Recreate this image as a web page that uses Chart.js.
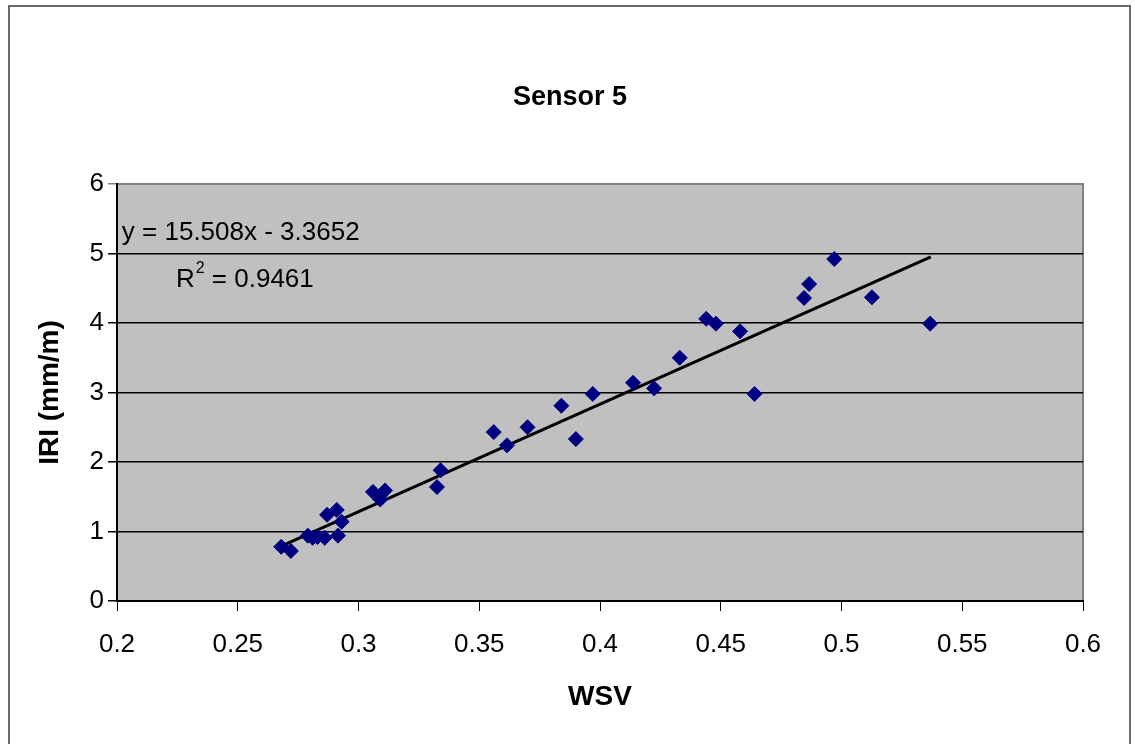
<!DOCTYPE html>
<html>
<head>
<meta charset="utf-8">
<title>Sensor 5</title>
<script src="https://cdn.jsdelivr.net/npm/chart.js@4/dist/chart.umd.min.js"></script>
<style>
  html, body { margin: 0; padding: 0; background: #fff; }
  #wrap { width: 1135px; height: 744px; position: relative; }
</style>
</head>
<body>
<div id="wrap"><canvas id="chart" width="1135" height="744"></canvas></div>
<script>
// measured points: WSV vs IRI
const wsv = [0.268, 0.272, 0.279, 0.281, 0.283, 0.286, 0.2915, 0.287, 0.291, 0.293,
  0.306, 0.311, 0.309, 0.3325, 0.334, 0.356, 0.3615, 0.370, 0.384, 0.390,
  0.397, 0.4137, 0.4224, 0.433, 0.444, 0.448, 0.458, 0.464, 0.4845, 0.4866,
  0.497, 0.5126, 0.5367];
const iri = [0.78, 0.72, 0.94, 0.91, 0.92, 0.91, 0.94, 1.24, 1.31, 1.14,
  1.57, 1.59, 1.46, 1.64, 1.88, 2.43, 2.24, 2.50, 2.81, 2.33,
  2.98, 3.14, 3.06, 3.50, 4.06, 3.99, 3.88, 2.98, 4.36, 4.56,
  4.92, 4.37, 3.99];

// linear trendline ends
const trendX = [0.268, 0.537];
const trendY = [0.79, 4.95];

const xTicks = [0.2, 0.25, 0.3, 0.35, 0.4, 0.45, 0.5, 0.55, 0.6];
const yTicks = [0, 1, 2, 3, 4, 5, 6];

const chartTitle = 'Sensor 5';
const eqText = 'y = 15.508x - 3.3652';
const r2Text = ' = 0.9461';

const FONT = '"Liberation Sans", Arial, sans-serif';

const frame = {
  id: 'frame',
  beforeDraw(chart) {
    const { ctx, chartArea: a } = chart;
    ctx.save();
    ctx.fillStyle = '#fff';
    ctx.fillRect(0, 0, chart.width, chart.height);
    ctx.strokeStyle = '#6a6a6a';
    ctx.lineWidth = 2;
    ctx.strokeRect(9, 6, 1121, 760);
    ctx.fillStyle = '#c0c0c0';
    ctx.fillRect(a.left, a.top, a.right - a.left, a.bottom - a.top);
    ctx.strokeStyle = '#808080';
    ctx.lineWidth = 2;
    ctx.beginPath();
    ctx.moveTo(a.left, a.top);
    ctx.lineTo(a.right, a.top);
    ctx.lineTo(a.right, a.bottom);
    ctx.stroke();
    // chart title, centred on the whole chart box (not the plot)
    ctx.fillStyle = '#000';
    ctx.font = 'bold 27px ' + FONT;
    ctx.textAlign = 'center';
    ctx.textBaseline = 'middle';
    ctx.fillText(chartTitle, 570, 98);
    ctx.restore();
  },
  afterDatasetsDraw(chart) {
    const { ctx, scales: { x, y } } = chart;
    ctx.save();
    ctx.fillStyle = '#000';
    ctx.textBaseline = 'middle';
    ctx.font = '26px ' + FONT;
    ctx.fillText(eqText, x.getPixelForValue(0.202), y.getPixelForValue(5.3));
    const rx = x.getPixelForValue(0.2244), ry = y.getPixelForValue(4.62);
    ctx.fillText('R', rx, ry);
    const rw = ctx.measureText('R').width;
    ctx.font = '16px ' + FONT;
    ctx.fillText('2', rx + rw + 1, ry - 11);
    const sw = ctx.measureText('2').width;
    ctx.font = '26px ' + FONT;
    ctx.fillText(r2Text, rx + rw + sw + 1, ry);
    ctx.restore();
  }
};

new Chart(document.getElementById('chart'), {
  type: 'scatter',
  data: {
    datasets: [
      {
        label: 'IRI',
        data: wsv.map((v, i) => ({ x: v, y: iri[i] })),
        pointStyle: 'rectRot',
        pointRadius: 7.5,
        backgroundColor: '#000080',
        borderColor: '#000080',
        borderWidth: 1
      },
      {
        type: 'line',
        label: 'Linear',
        data: trendX.map((v, i) => ({ x: v, y: trendY[i] })),
        borderColor: '#000',
        borderWidth: 3,
        pointRadius: 0,
        fill: false
      }
    ]
  },
  options: {
    responsive: false,
    animation: false,
    events: [],
    layout: { padding: { top: 184, right: 52, bottom: 0, left: 0 } },
    plugins: {
      legend: { display: false },
      tooltip: { enabled: false },
      title: { display: false }
    },
    scales: {
      x: {
        type: 'linear',
        min: 0.2, max: 0.6,
        afterBuildTicks: s => { s.ticks = xTicks.map(v => ({ value: v })); },
        afterFit: s => { s.height = 143; },
        ticks: {
          color: '#000',
          font: { family: FONT, size: 26 },
          padding: 18,
          callback: v => String(+v.toFixed(2))
        },
        grid: { drawOnChartArea: false, drawTicks: true, tickLength: 10, color: '#000' },
        border: { color: '#000', width: 2 },
        title: {
          display: true,
          text: 'WSV',
          color: '#000',
          font: { family: FONT, size: 28, weight: 'bold' },
          padding: { top: 0, bottom: 30 }
        }
      },
      y: {
        type: 'linear',
        min: 0, max: 6,
        afterBuildTicks: s => { s.ticks = yTicks.map(v => ({ value: v })); },
        afterFit: s => { s.width = 117; },
        ticks: {
          color: '#000',
          font: { family: FONT, size: 26 },
          padding: 4,
          callback: v => String(v)
        },
        grid: {
          color: c => c.tick && c.tick.value === 6 ? '#808080' : '#000',
          lineWidth: 1.5,
          tickLength: 9
        },
        border: { color: '#000', width: 2 },
        title: {
          display: true,
          text: 'IRI (mm/m)',
          color: '#000',
          font: { family: FONT, size: 28, weight: 'bold' },
          padding: { top: 33, bottom: 0 }
        }
      }
    }
  },
  plugins: [frame]
});
</script>
</body>
</html>
